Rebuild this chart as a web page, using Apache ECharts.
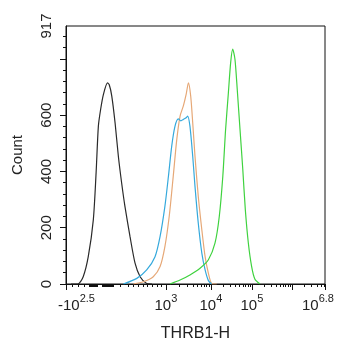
<!DOCTYPE html>
<html><head><meta charset="utf-8">
<script src="https://cdn.jsdelivr.net/npm/echarts@6/dist/echarts.min.js"></script>
<style>html,body{margin:0;padding:0;background:#fff}#c{width:342px;height:350px}</style>
</head><body><div id="c"></div>
<script>
// x values are in display channels (0..1024) of the logicle-like axis; y values are counts
const blackX  = [20, 47, 68, 88, 108, 119, 128, 137, 148, 164, 171, 181, 194, 207, 220, 233, 253, 273, 293, 319, 340];
const blackY  = [0, 0, 26, 97, 228, 395, 561, 621, 674, 715, 708, 668, 573, 454, 359, 276, 169, 74, 26, 2, 0];
const blueX   = [227, 280, 319, 352, 372, 391, 405, 418, 431, 444, 454, 464, 475, 481, 490, 501, 510, 523, 537, 550, 563, 576];
const blueY   = [0, 20, 50, 97, 169, 276, 383, 490, 561, 587, 580, 585, 591, 597, 561, 454, 347, 216, 110, 50, 12, 0];
const orangeX = [266, 306, 345, 372, 391, 408, 424, 438, 451, 464, 475, 484, 493, 501, 510, 523, 537, 550, 563, 576, 596];
const orangeY = [0, 8, 26, 62, 133, 240, 383, 514, 597, 633, 674, 715, 668, 573, 454, 311, 193, 97, 38, 2, 0];
const greenX  = [411, 451, 490, 530, 563, 589, 606, 620, 631, 642, 651, 659, 668, 677, 688, 699, 709, 721, 734, 747, 767];
const greenY  = [0, 14, 32, 56, 86, 145, 240, 383, 549, 680, 787, 835, 799, 692, 549, 407, 264, 145, 62, 17, 0];

// axis ticks (channels) and labels
const xLabelCh   = [0, 395, 573, 735, 1024];
const xLabelBase = ['-10', '10', '10', '10', '10'];
const xLabelExp  = ['2.5', '3', '4', '5', '6.8'];
const decadeCh   = [395, 573, 735, 893, 1024];   // 10^3, 10^4, 10^5, 10^6, 10^6.8
const decadeExp  = [3, 4, 5, 6, 6.8];
const nearZeroTickCh = [24, 47, 71, 91, 95, 99, 103, 107, 111, 115, 119, 123,
  142, 146, 150, 154, 158, 162, 166, 170, 174, 178, 182, 186,
  214, 245, 265, 285, 304, 320, 340, 360, 376];
const yLabels = [0, 200, 400, 600, 917];
const yMax = 917;

function expToCh(e) {
  for (let i = 0; i < decadeExp.length - 1; i++) {
    if (e >= decadeExp[i] && e <= decadeExp[i + 1]) {
      const f = (e - decadeExp[i]) / (decadeExp[i + 1] - decadeExp[i]);
      return decadeCh[i] + f * (decadeCh[i + 1] - decadeCh[i]);
    }
  }
  return null;
}
const xMajorTicks = [0].concat(decadeCh);
const xMinorTicks = nearZeroTickCh.slice();
for (let d = 3; d < 7; d++) {
  for (let k = 2; k <= 9; k++) {
    const e = d + Math.log10(k);
    if (e < 6.8) xMinorTicks.push(expToCh(e));
  }
}
const yMajorTicks = [0, 200, 400, 600, 800];
const yMinorTicks = [];
for (let v = 40; v < yMax; v += 40) if (v % 200 !== 0) yMinorTicks.push(v);

const zip = (xs, ys) => xs.map((x, i) => [x, ys[i]]);
const FONT = 'Liberation Sans';
const axisCol = '#111';

const chart = echarts.init(document.getElementById('c'), null, {renderer: 'canvas'});
const mkLine = (name, xs, ys, color) => ({
  name, type: 'line', data: zip(xs, ys), showSymbol: false, smooth: 0.25,
  lineStyle: {color, width: 1.2}, xAxisIndex: 0, yAxisIndex: 0, animation: false, z: 3
});
chart.setOption({
  animation: false,
  grid: {left: 66, right: 17, top: 26, bottom: 66, show: true, borderColor: axisCol, borderWidth: 1,
         containLabel: false, outerBoundsMode: 'none'},
  xAxis: [{
    type: 'value', min: 0, max: 1024, position: 'bottom',
    name: 'THRB1-H', nameLocation: 'middle', nameGap: 42,
    nameTextStyle: {fontFamily: FONT, fontSize: 16, color: '#222'},
    axisLine: {show: true, lineStyle: {color: axisCol, width: 1}},
    splitLine: {show: false},
    axisTick: {show: true, length: 6, lineStyle: {color: axisCol}, customValues: xMajorTicks},
    axisLabel: {
      show: true, margin: 9, customValues: xLabelCh, color: '#222', hideOverlap: false,
      formatter: function (v) {
        const i = xLabelCh.indexOf(v);
        if (i < 0) return '';
        if (i === 0) return '{m|' + xLabelBase[i] + '}{s|' + xLabelExp[i] + '}';
        if (i === xLabelCh.length - 1) return '{b|' + xLabelBase[i] + '}{r|' + xLabelExp[i] + '}';
        return '{b|' + xLabelBase[i] + '}{s|' + xLabelExp[i] + '}';
      },
      rich: {
        b: {fontFamily: FONT, fontSize: 15, color: '#222', verticalAlign: 'bottom', lineHeight: 20},
        m: {fontFamily: FONT, fontSize: 15, color: '#222', verticalAlign: 'bottom', lineHeight: 20, padding: [0, 0, 0, 21]},
        s: {fontFamily: FONT, fontSize: 11, color: '#222', verticalAlign: 'top', lineHeight: 12},
        r: {fontFamily: FONT, fontSize: 11, color: '#222', verticalAlign: 'top', lineHeight: 12, padding: [0, 14, 0, 0]}
      }
    }
  }, {
    type: 'value', min: 0, max: 1024, position: 'bottom', gridIndex: 0,
    axisLine: {show: false}, splitLine: {show: false}, axisLabel: {show: false},
    axisTick: {show: true, length: 3, lineStyle: {color: axisCol}, customValues: xMinorTicks}
  }],
  yAxis: [{
    type: 'value', min: 0, max: yMax, position: 'left',
    name: 'Count', nameLocation: 'middle', nameGap: 41, nameRotate: 90,
    nameTextStyle: {fontFamily: FONT, fontSize: 15, color: '#222'},
    axisLine: {show: true, lineStyle: {color: axisCol, width: 1}},
    splitLine: {show: false},
    axisTick: {show: true, length: 6, lineStyle: {color: axisCol}, customValues: yMajorTicks},
    axisLabel: {show: true, rotate: 90, margin: 12, customValues: yLabels, fontFamily: FONT, fontSize: 15, color: '#222'}
  }, {
    type: 'value', min: 0, max: yMax, position: 'left', gridIndex: 0,
    axisLine: {show: false}, splitLine: {show: false}, axisLabel: {show: false},
    axisTick: {show: true, length: 3, lineStyle: {color: axisCol}, customValues: yMinorTicks}
  }],
  series: [
    mkLine('black', blackX, blackY, '#2a2a2a'),
    mkLine('orange', orangeX, orangeY, '#e6a877'),
    mkLine('blue', blueX, blueY, '#35a9dc'),
    mkLine('green', greenX, greenY, '#3fd23f')
  ]
});
</script></body></html>
